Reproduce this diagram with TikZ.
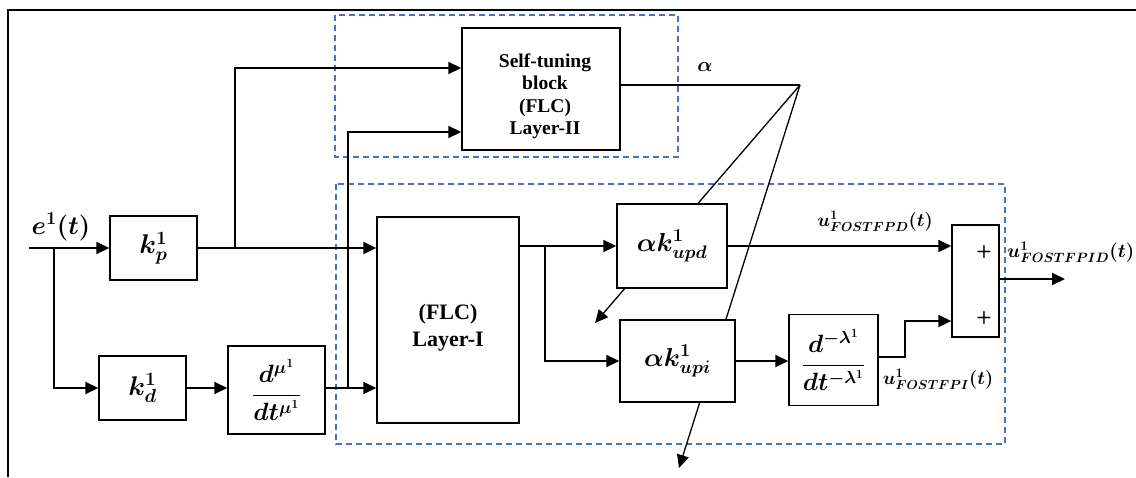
\RequirePackage{fix-cm}
\documentclass[tikz,border=0pt]{standalone}
\usepackage{amsmath}
\usepackage{bm}
\usepackage{fontspec}
\setmainfont{Liberation Serif}
\usetikzlibrary{arrows.meta}
\definecolor{dashblue}{RGB}{68,114,196}
\tikzset{
  blk/.style={draw, fill=white, line width=1.4pt, inner sep=0pt},
  arr/.style={line width=1.8pt, -{Triangle[length=13pt,width=12pt]}},
  diag/.style={line width=1.3pt, -{Triangle[length=13pt,width=12pt]}},
  grp/.style={draw=dashblue, line width=1.3pt, dash pattern=on 6pt off 4pt},
  lbl/.style={inner sep=0pt},
  txt/.style={align=center, font=\fontsize{19.5}{22.5}\selectfont\bfseries},
  plus/.style={inner sep=0pt, font=\sffamily\bfseries\fontsize{18}{18}\selectfont},
  fk/.style={font=\fontsize{27}{30}\selectfont},
  fa/.style={font=\fontsize{26}{30}\selectfont},
  ff/.style={font=\fontsize{25}{29}\selectfont},
  fu/.style={font=\fontsize{18.7}{22}\selectfont}
}
\begin{document}
\begin{tikzpicture}[x=1pt,y=-1pt]
\useasboundingbox (0,0) rectangle (1136,477);
% frame
\draw[line width=1.6pt] (8,477) -- (8,10) -- (1136,10);
% dashed groups
\draw[grp] (335,15) rectangle (678,157);
\draw[grp] (336,184) rectangle (1005,444);
% coordinates
\coordinate (apex) at (800,85);
\coordinate (tipa) at (595,323);
\coordinate (tipb) at (679,468);
\coordinate (in) at (29,248);
\coordinate (out) at (1065,279);
% diagonal alpha lines (behind boxes)
\draw[diag] (apex) -- (tipa);
\draw[diag] (apex) -- (tipb);
% blocks
\node[blk, fk, minimum width=87pt, minimum height=64pt] (kp) at (153.5,248) {$\bm{k_p^1}$};
\node[blk, fk, minimum width=87pt, minimum height=64pt] (kd) at (142.5,388) {$\bm{k_d^1}$};
\node[blk, ff, minimum width=97pt, minimum height=88pt] (dmu) at (276.5,390) {$\bm{\dfrac{d^{\mu^1}}{dt^{\mu^1}}}$};
\node[blk, minimum width=142pt, minimum height=206pt] (flc) at (448,320) {};
\node[txt, font=\fontsize{22}{27}\selectfont\bfseries] (flct) at (448,328) {(FLC)\\Layer-I};
\node[blk, minimum width=158pt, minimum height=122pt] (st) at (541,89) {};
\node[txt] (stt) at (545,96) {Self-tuning\\block\\(FLC)\\Layer-II};
\node[blk, fa, minimum width=110pt, minimum height=84pt] (upd) at (672,246) {$\bm{\alpha k^1_{upd}}$};
\node[blk, fa, minimum width=115pt, minimum height=82pt] (upi) at (677.5,361) {$\bm{\alpha k^1_{upi}}$};
\node[blk, ff, minimum width=89pt, minimum height=91pt] (dlam) at (833.5,360) {$\bm{\dfrac{d^{-\lambda^1}}{dt^{-\lambda^1}}}$};
\node[blk, minimum width=47pt, minimum height=112pt] (sum) at (975.5,281) {};
\node[plus] (p1) at (984,252) {+};
\node[plus] (p2) at (984,318) {+};
% junctions
\coordinate (j1) at (54,248);
\coordinate (j2) at (235,248);
\coordinate (j3) at (348,388);
\coordinate (j4) at (545,246);
% connectors
\draw[arr] (in) -- (kp.west);
\draw[arr] (j1) |- (kd.west);
\draw[arr] (kd.east) -- (dmu.west |- kd.east);
\draw[arr] (dmu.east |- kd.east) -- (flc.west |- kd.east);
\draw[arr] (kp.east) -- (flc.west |- kp.east);
\draw[arr] (j2) |- ([yshift=21pt]st.west);
\draw[arr] (j3) |- ([yshift=-43pt]st.west);
\draw[arr] (flc.east |- upd.west) -- (upd.west);
\draw[arr] (j4) |- (upi.west);
\draw[arr] (upd.east) -- (sum.west |- upd.east);
\draw[arr] (upi.east) -- (dlam.west |- upi.east);
\draw[arr] ([yshift=3pt]dlam.east) -- ++(26,0) |- ([yshift=-40pt]sum.west);
\draw[arr] (sum.east |- out) -- (out);
\draw[line width=1.3pt] (st.east |- apex) -- (apex);
% labels
\node[lbl, font=\fontsize{26}{30}\selectfont] (elbl) at (61,227) {$\bm{e^{1}(t)}$};
\node[lbl, font=\fontsize{20}{24}\selectfont] (albl) at (705,67) {$\bm{\alpha}$};
\node[lbl, fu] (updl) at (875,221) {$\bm{u^1_{FOSTFPD}(t)}$};
\node[lbl, fu] (upil) at (938,379) {$\bm{u^1_{FOSTFPI}(t)}$};
\node[lbl, anchor=west, font=\fontsize{19.3}{23}\selectfont] (outl) at (1007,252) {$\bm{u^1_{FOSTFPID}(t)}$};
\end{tikzpicture}
\end{document}
